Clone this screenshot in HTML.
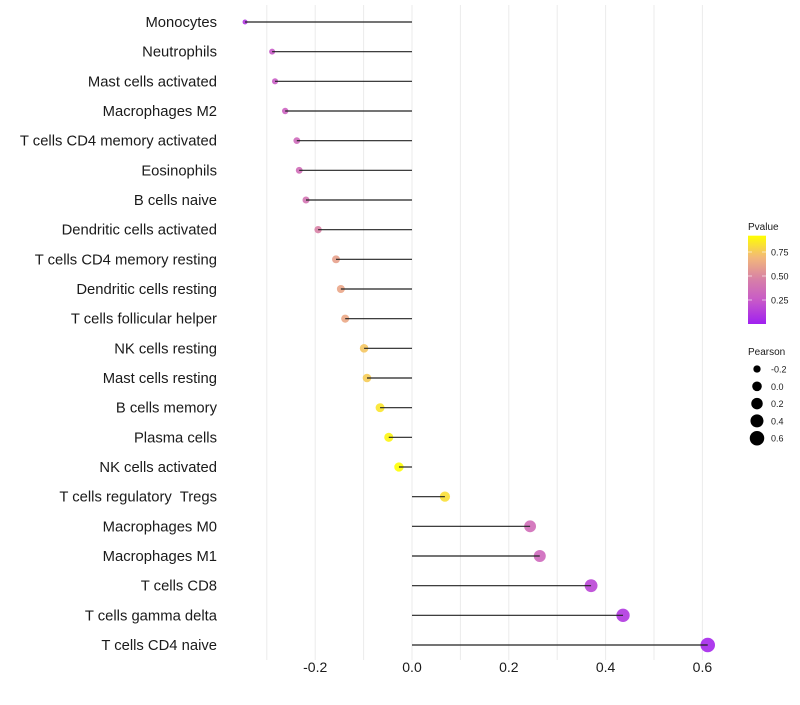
<!DOCTYPE html>
<html><head><meta charset="utf-8"><style>
html,body{margin:0;padding:0;background:#fff;}
svg text{font-family:"Liberation Sans",sans-serif;white-space:pre;}
</style></head><body>
<svg id="chart" width="800" height="700" viewBox="0 0 800 700" xmlns="http://www.w3.org/2000/svg">
<g id="grid"></g>
<g id="marks"></g>
<g id="ylabels"></g>
<g id="xlabels"></g>
<g id="legend"></g>
</svg>
<script>
const categories = ["Monocytes","Neutrophils","Mast cells activated","Macrophages M2","T cells CD4 memory activated","Eosinophils","B cells naive","Dendritic cells activated","T cells CD4 memory resting","Dendritic cells resting","T cells follicular helper","NK cells resting","Mast cells resting","B cells memory","Plasma cells","NK cells activated","T cells regulatory  Tregs","Macrophages M0","Macrophages M1","T cells CD8","T cells gamma delta","T cells CD4 naive"];
const pearson = [-0.345,-0.289,-0.283,-0.262,-0.238,-0.233,-0.219,-0.194,-0.157,-0.147,-0.138,-0.099,-0.093,-0.066,-0.048,-0.027,0.068,0.244,0.264,0.370,0.436,0.611];
const pvalue = [0.10,0.25,0.27,0.30,0.34,0.36,0.40,0.47,0.60,0.62,0.63,0.74,0.76,0.84,0.89,0.94,0.82,0.36,0.33,0.16,0.10,0.03];
const xTicks = [-0.2,0.0,0.2,0.4,0.6];
const xTickLabels = ["-0.2","0.0","0.2","0.4","0.6"];
const gridVals = [-0.3,-0.2,-0.1,0,0.1,0.2,0.3,0.4,0.5,0.6];
const pTicks = [0.25,0.5,0.75];
const pTickLabels = ["0.25","0.50","0.75"];
const sizeBreaks = [-0.2,0.0,0.2,0.4,0.6];
const sizeLabels = ["-0.2","0.0","0.2","0.4","0.6"];

const NS="http://www.w3.org/2000/svg";
function x(v){return 412+v*484;}
function y(i){return 22+i*(623/21);}
function r(v){return Math.max(1.5,Math.sqrt(Math.max(0,23.1+48.9*v)));}
const stops=[[0,[160,32,240]],[0.25,[200,90,200]],[0.45,[214,125,170]],[0.7,[243,185,120]],[0.92,[255,255,0]]];
function col(p){
  if(p<=stops[0][0])return "rgb("+stops[0][1]+")";
  for(let k=1;k<stops.length;k++){
    if(p<=stops[k][0]){const a=stops[k-1],b=stops[k],t=(p-a[0])/(b[0]-a[0]);
      return "rgb("+a[1].map((c,j)=>Math.round(c+(b[1][j]-c)*t)).join(",")+")";}
  }
  return "rgb(255,255,0)";
}
function mk(tag,attrs,parent){const e=document.createElementNS(NS,tag);for(const k in attrs)e.setAttribute(k,attrs[k]);parent.appendChild(e);return e;}
const grid=document.getElementById('grid'),marks=document.getElementById('marks'),yl=document.getElementById('ylabels'),xl=document.getElementById('xlabels'),lg=document.getElementById('legend');
gridVals.forEach(v=>{
  const l=mk('line',{x1:x(v),x2:x(v),y1:5,y2:660,stroke:'#ebebeb','stroke-width':1},grid);
  
  
});
categories.forEach((c,i)=>{
  const cy=y(i);
  const pt=mk('circle',{cx:x(pearson[i]),cy:cy,r:r(pearson[i]),fill:col(pvalue[i]),opacity:0.9},marks);
  
  
  const seg=mk('line',{x1:x(0),x2:x(pearson[i]),y1:cy,y2:cy,stroke:'#222','stroke-width':1.2},marks);
  
  
  const t=mk('text',{x:217,y:cy+5,'text-anchor':'end','font-size':14.8,fill:'#1a1a1a','xml:space':'preserve'},yl);
  t.textContent=c;
  
  
});
xTicks.forEach((v,i)=>{
  const t=mk('text',{x:x(v),y:672,'text-anchor':'middle','font-size':14,fill:'#1a1a1a'},xl);
  t.textContent=xTickLabels[i];
  
  
});
const tt=mk('text',{x:748,y:230,'font-size':10,fill:'#1a1a1a'},lg);tt.textContent='Pvalue';


const defs=mk('defs',{},lg);
const grad=mk('linearGradient',{id:'pg',x1:0,y1:1,x2:0,y2:0},defs);
for(let k=0;k<=20;k++){const p=k/20*0.92;mk('stop',{offset:(k/20),'stop-color':col(p)},grad);}
function py(p){return 324-p*96;}
const bar=mk('rect',{x:748,y:py(0.92),width:18,height:py(0)-py(0.92),fill:'url(#pg)'},lg);


pTicks.forEach((p,i)=>{
  mk('line',{x1:748,x2:752,y1:py(p),y2:py(p),stroke:'#fff','stroke-opacity':0.6},lg);
  mk('line',{x1:762,x2:766,y1:py(p),y2:py(p),stroke:'#fff','stroke-opacity':0.6},lg);
  const t=mk('text',{x:771,y:py(p)+3.5,'font-size':9,fill:'#1a1a1a'},lg);t.textContent=pTickLabels[i];
  
  
});
const st=mk('text',{x:748,y:355,'font-size':10,fill:'#1a1a1a'},lg);st.textContent='Pearson';


sizeBreaks.forEach((v,i)=>{
  const cy=369+i*17.3;
  const c=mk('circle',{cx:757,cy:cy,r:r(v),fill:'#000'},lg);
  
  
  const t=mk('text',{x:771,y:cy+3.5,'font-size':9,fill:'#1a1a1a'},lg);t.textContent=sizeLabels[i];
  
  
});
</script>
</body></html>
